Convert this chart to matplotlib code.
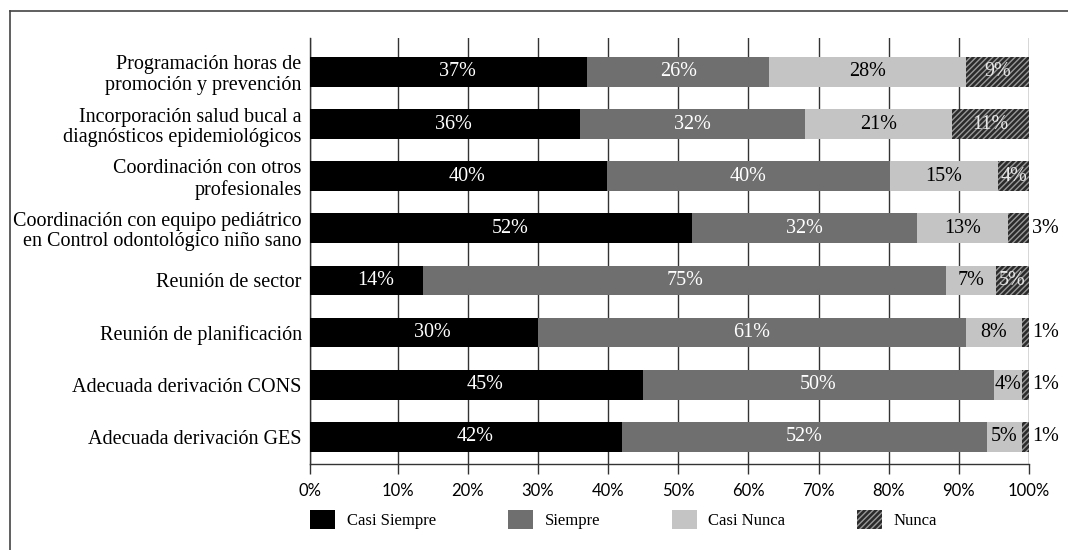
import matplotlib.pyplot as plt
from matplotlib.patches import Patch
from matplotlib.lines import Line2D

categories = [
    "Programación horas de\npromoción y prevención",
    "Incorporación salud bucal a\ndiagnósticos epidemiológicos",
    "Coordinación con otros\nprofesionales",
    "Coordinación con equipo pediátrico\nen Control odontológico niño sano",
    "Reunión de sector",
    "Reunión de planificación",
    "Adecuada derivación CONS",
    "Adecuada derivación GES",
]
series = ["Casi Siempre", "Siempre", "Casi Nunca", "Nunca"]
casi_siempre = [37, 36, 39.8, 52, 13.6, 30, 45, 42]
siempre = [26, 32, 40.4, 32, 74.6, 61, 50, 52]
casi_nunca = [28, 21, 15.4, 13, 7.1, 8, 4, 5]
nunca = [9, 11, 4.4, 3, 4.7, 1, 1, 1]
tick_vals = [0, 10, 20, 30, 40, 50, 60, 70, 80, 90, 100]

colors = ["#000000", "#6f6f6f", "#c4c4c4", "#2b2b2b"]
text_colors = ["white", "white", "black", "#e8e8e8"]
serif = ["Liberation Serif", "DejaVu Serif"]

fig = plt.figure(figsize=(10.68, 5.5), dpi=100)
ax = fig.add_axes([310 / 1068, 1 - 464 / 550, 719 / 1068, 426 / 550])

# frame of the source figure: only the top and left edges are inside the crop
fig.add_artist(Line2D([10 / 1068, 1], [1 - 10.5 / 550, 1 - 10.5 / 550],
                      transform=fig.transFigure, color="#444444", linewidth=1.2))
fig.add_artist(Line2D([10 / 1068, 10 / 1068], [0, 1 - 10.5 / 550],
                      transform=fig.transFigure, color="#444444", linewidth=1.2))

# the first segment in the source starts at the axis, a little left of the 0 mark
x0 = -2.5
ax.set_xlim(x0, 100)
ax.set_ylim(7.52, -0.65)

ypos = list(range(len(categories)))
data = [casi_siempre, siempre, casi_nunca, nunca]
left = [x0] * len(categories)
for k, vals in enumerate(data):
    widths = [v - x0 if k == 0 else v for v in vals]
    kw = dict(color=colors[k], linewidth=0)
    if k == 3:
        kw.update(hatch="//////", edgecolor="#9a9a9a")
    ax.barh(ypos, widths, left=left, height=0.57, zorder=3, **kw)
    for i, v in enumerate(vals):
        label = f"{round(v):.0f}%"
        start = left[i] if k > 0 else 0
        if k == 3 and v < 4:
            ax.text(100.4, i, label, ha="left", va="center", fontsize=14.5,
                    family=serif, color="black", zorder=4)
        else:
            ax.text(start + v / 2, i, label, ha="center", va="center",
                    fontsize=14.5, family=serif, color=text_colors[k], zorder=4)
    left = [l + w for l, w in zip(left, widths)]

ax.set_yticks(ypos)
ax.set_yticklabels(categories, family=serif, fontsize=14.5, linespacing=1.1)
ax.tick_params(axis="y", length=0, pad=6)

ax.set_xticks([x0] + tick_vals[1:])
ax.set_xticklabels([f"{t}%" for t in tick_vals], family=["Lato", "DejaVu Sans"],
                   fontsize=12)
ax.tick_params(axis="x", direction="out", length=7, width=1, color="#333333", pad=7)
ax.grid(axis="x", color="#333333", linewidth=1, zorder=0)
for s in ["top", "right"]:
    ax.spines[s].set_visible(False)
for s in ["left", "bottom"]:
    ax.spines[s].set_color("#333333")
    ax.spines[s].set_linewidth(1)

handles = []
for k, name in enumerate(series):
    kw = dict(facecolor=colors[k], linewidth=0)
    if k == 3:
        kw.update(hatch="//////", edgecolor="#9a9a9a")
    handles.append(Patch(label=name, **kw))
fig.legend(handles=handles, loc="center", bbox_to_anchor=(0.584, 0.056), ncol=4,
           frameon=False, prop={"family": serif, "size": 12}, handlelength=1.5,
           handleheight=1.4, columnspacing=4.3, handletextpad=0.7)

fig.savefig("out.png", dpi=100)
